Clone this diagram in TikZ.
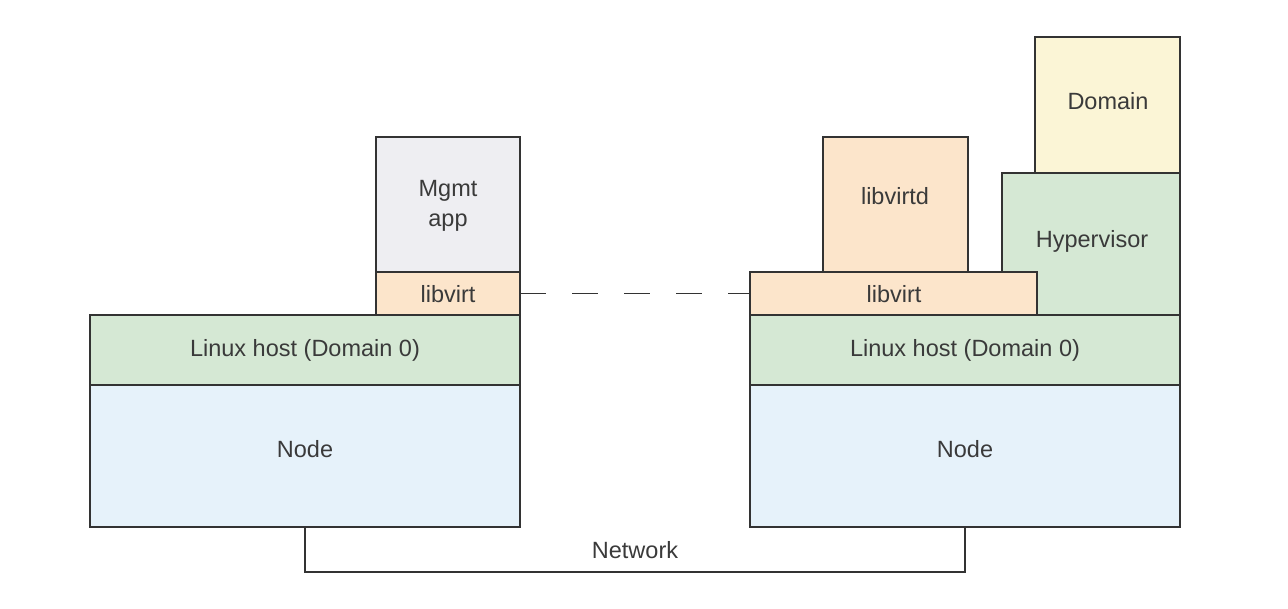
\documentclass[tikz,border=0pt]{standalone}
\usepackage{fontspec}
\setmainfont{Liberation Sans}
\definecolor{linec}{HTML}{333333}
\definecolor{textc}{HTML}{3A3A3A}
\definecolor{nodec}{HTML}{E6F2FA}
\definecolor{hostc}{HTML}{D5E8D4}
\definecolor{libc}{HTML}{FCE5CB}
\definecolor{mgmtc}{HTML}{EEEEF2}
\definecolor{domc}{HTML}{FBF5D6}
\tikzset{
  box/.style={draw=linec, line width=1.6pt, rectangle, inner sep=0pt, outer sep=0pt, anchor=north west},
  lbl/.style={text=textc, font=\fontsize{23.5}{30}\selectfont, inner sep=0pt, align=center},
  conn/.style={draw=linec, line width=1.6pt},
}
\begin{document}
\begin{tikzpicture}[x=1pt,y=-1pt]
\useasboundingbox[fill=white] (0,0) rectangle (1288,609);
% left stack
\node[box, fill=nodec, minimum width=430pt, minimum height=142pt] (lnode) at (90,385) {};
\node[box, fill=hostc, minimum width=430pt, minimum height=70pt] (lhost) at (90,315) {};
\node[box, fill=libc, minimum width=144pt, minimum height=43pt] (llib) at (376,272) {};
\node[box, fill=mgmtc, minimum width=144pt, minimum height=135pt] (mgmt) at (376,137) {};
% right stack
\node[box, fill=nodec, minimum width=430pt, minimum height=142pt] (rnode) at (750,385) {};
\node[box, fill=hostc, minimum width=430pt, minimum height=70pt] (rhost) at (750,315) {};
\node[box, fill=hostc, minimum width=178pt, minimum height=142pt] (hyper) at (1002,173) {};
\node[box, fill=libc, minimum width=287pt, minimum height=43pt] (rlib) at (750,272) {};
\node[box, fill=libc, minimum width=145pt, minimum height=135pt] (libd) at (823,137) {};
\node[box, fill=domc, minimum width=145pt, minimum height=136pt] (dom) at (1035,37) {};
% labels
\node[lbl] (lnodet) at (305,449) {Node};
\node[lbl] (lhostt) at (305,350) {Linux host (Domain 0)};
\node[lbl] (llibt) at (448,294) {libvirt};
\node[lbl] (mgmtt) at (448,206) {Mgmt\\app};
\node[lbl] (rnodet) at (965,449) {Node};
\node[lbl] (rhostt) at (965,350) {Linux host (Domain 0)};
\node[lbl] (rlibt) at (894,294) {libvirt};
\node[lbl] (libdt) at (895,196) {libvirtd};
\node[lbl] (hypert) at (1092,241) {Hypervisor};
\node[lbl] (domt) at (1108,101) {Domain};
% connectors
\draw[conn, dash pattern=on 26pt off 26pt] (llib.east) -- (rlib.west);
\coordinate (netl) at (305,572);
\coordinate (netr) at (965,572);
\draw[conn] (lnode.south) -- (netl) -- node[lbl, above=12pt, midway] (nett) {Network} (netr) -- (rnode.south);
\end{tikzpicture}
\end{document}
